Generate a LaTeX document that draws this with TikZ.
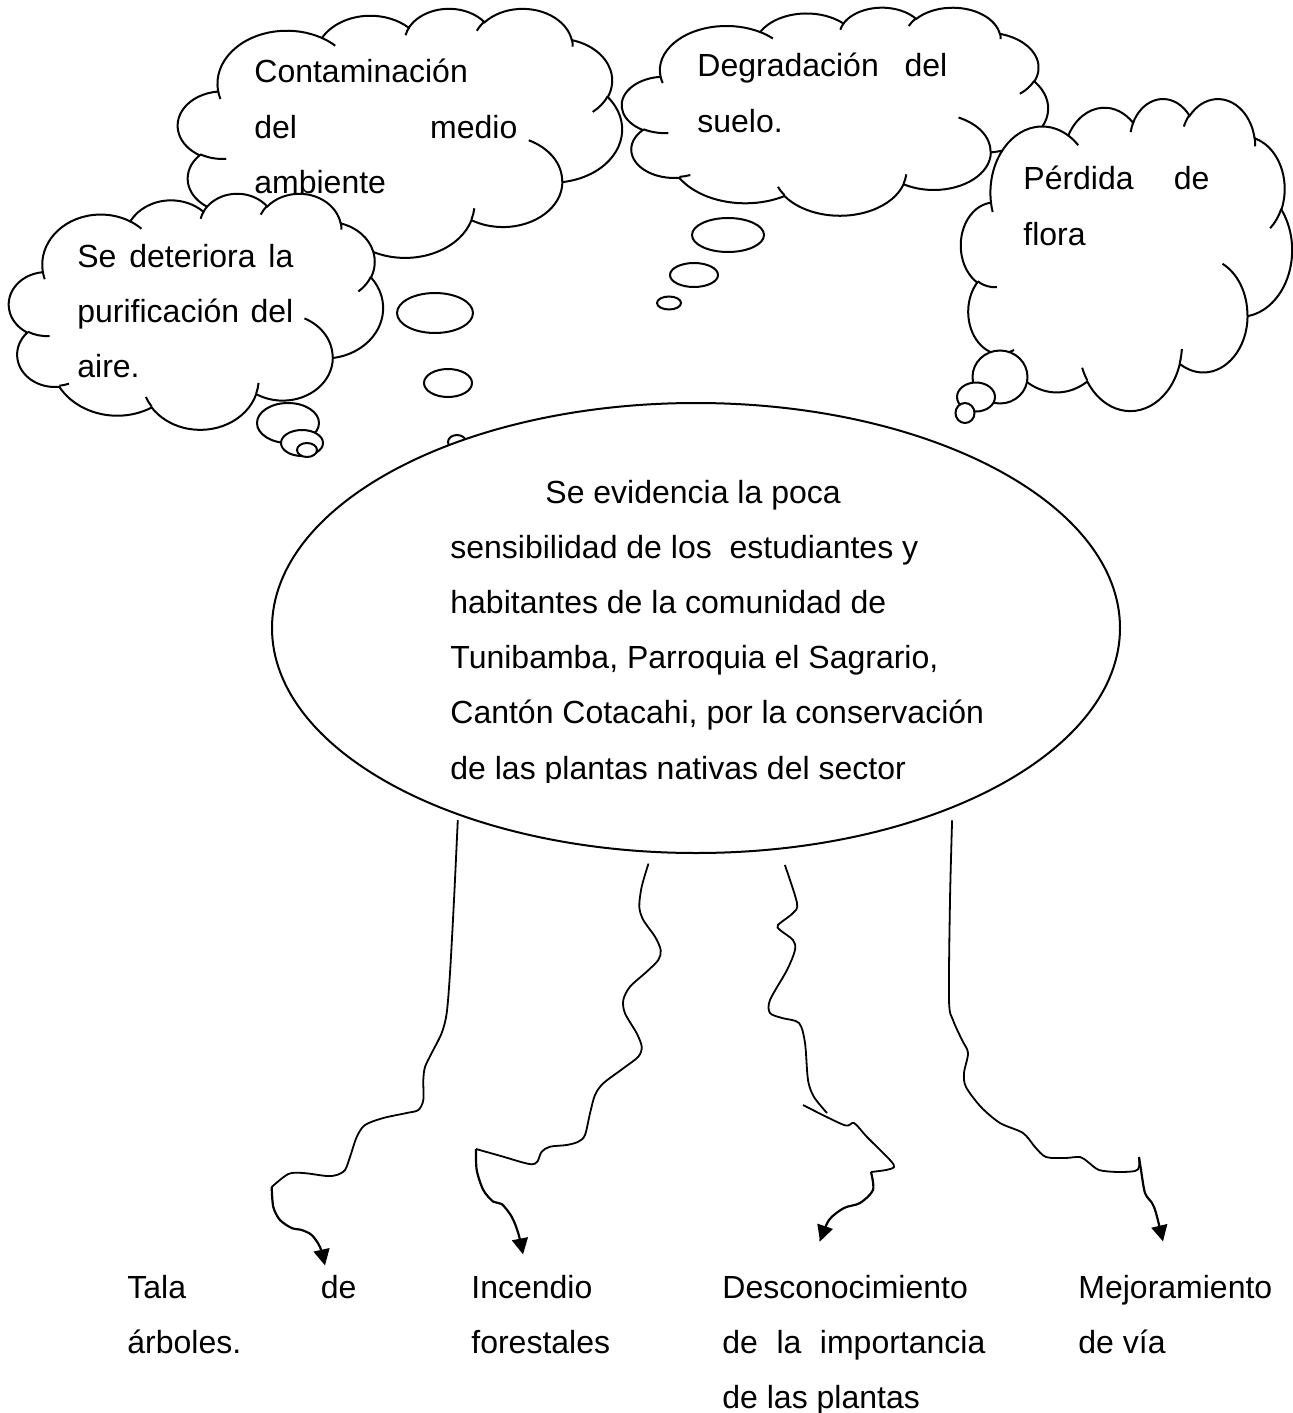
\documentclass[tikz,border=0pt]{standalone}
\usepackage{fontspec}
\setmainfont{Liberation Sans}
\usetikzlibrary{shapes.geometric,arrows.meta}

% arco de nube (radios, angulo inicial, barrido)
\newcommand\arco[4]{arc[x radius=#1, y radius=#2,
  start angle={atan2(#1*sin(#3),#2*cos(#3))},
  delta angle={mod(atan2(#1*sin(#3+#4),#2*cos(#3+#4))-atan2(#1*sin(#3),#2*cos(#3))+720,360)}]}
\newcommand\just[2]{\makebox[#1][s]{\spaceskip=0.2778em plus 1fil\relax #2}}

% nube: x, y, ancho, alto
\newcommand\nube[4]{%
  \pgfmathsetmacro\nubeancho{#3/864}%
  \pgfmathsetmacro\nubealto{#4/864}%
  \begin{scope}[shift={(#1,#2)}, x=\nubeancho pt, y=-\nubealto pt]
    \draw[borde] (39.00,143.70) \arco{67.53}{91.90}{-190.4875}{123.7805}
      \arco{53.33}{72.67}{-144.1024}{89.9452} \arco{43.65}{59.45}{-145.8079}{99.7230}
      \arco{48.57}{65.95}{-130.9861}{117.2417} \arco{53.33}{72.73}{-78.7089}{109.0269}
      \arco{67.75}{92.20}{-46.2673}{130.2690} \arco{57.85}{78.67}{0.6250}{114.0333}
      \arco{67.52}{92.15}{22.4516}{115.1726} \arco{77.20}{105.43}{66.2426}{75.7110}
      \arco{43.60}{59.18}{-274.9421}{146.7356} \arco{43.45}{59.45}{-246.8285}{152.5189}
      -- cycle;
    \foreach \px/\py/\rx/\ry/\a/\b in {46.93/261.77/43.45/59.45/86.742/26.4295,
        69.28/348.99/43.60/59.18/73.6105/11.4475, 164.78/390.90/67.52/92.15/137.6242/14.0811,
        288.27/347.51/67.52/92.15/6.4533/15.9984, 341.29/229.54/57.85/78.67/-70.2924/70.9174,
        417.98/153.54/53.33/72.73/30.3180/27.7515, 383.24/54.26/48.57/65.95/-13.7443/14.8589,
        290.78/39.52/48.57/65.95/-149.1815/18.1954, 221.41/47.20/43.65/59.45/-163.4943/17.6864,
        140.00/51.92/67.53/91.90/-66.7070/12.3194, 41.27/157.89/67.53/91.90/157.6544/11.8582}
      \draw[pliegue] (\px,\py) \arco{\rx}{\ry}{\a}{\b};
  \end{scope}}

\begin{document}
\begin{tikzpicture}[x=0.5pt, y=-0.5pt,
  borde/.style={line width=1pt, fill=white},
  pliegue/.style={line width=1pt},
  globo/.style={line width=1pt, fill=white},
  raiz/.style={line width=0.9pt},
  flecha/.style={line width=1.1pt, -{Triangle[length=8pt,width=8pt]}},
  texto/.style={font=\fontsize{16}{27.6}\selectfont, inner sep=0pt, anchor=base west, align=flush left}]
  \path[use as bounding box, fill=white] (0,0) rectangle (1293,1413);

  % nubes
  \nube{178}{8}{444}{249}
  \nube{622}{7}{426}{208}
  \nube{9}{193}{374}{236}
  \nube{961}{98}{331}{312}

  \foreach \cx/\cy/\rx/\ry in {435/313/38/20, 448/383/24/14, 457/442/9/7,
      728/235/36/17, 694/275/24/12, 669/303/12/6.5,
      288/423/31/20, 302/443/21/13, 307/450/10/7,
      1000/377/27.5/26.5, 976/397/19/14.5, 965/413/9.5/10}
    \draw[globo] (\cx,\cy) ellipse[x radius=\rx, y radius=\ry];

  \node[ellipse, draw, fill=white, line width=1pt, inner sep=0pt, outer sep=0pt,
    minimum width=424pt, minimum height=225pt] (problema) at (696,628) {};

  \node[texto, text width=150pt] (contaminacion) at (254,83)
    {Contaminación\\\just{131.5pt}{del medio}\\ambiente};
  \node[texto, text width=130pt] (deteriora) at (77,267)
    {\just{108pt}{Se deteriora la}\\\just{108pt}{purificación del}\\aire.};
  \node[texto, text width=140pt] (degradacion) at (697,77)
    {\just{125pt}{Degradación del}\\suelo.};
  \node[texto, text width=110pt] (perdida) at (1023,190)
    {\just{93pt}{Pérdida de}\\flora};
  \begin{scope}
    \clip (0,0) rectangle (1293,782);
    \node[texto, text width=300pt] (evidencia) at (450,503)
      {\hspace*{47.5pt}Se evidencia la poca\\sensibilidad de los\ \ estudiantes y\\habitantes de la comunidad de\\Tunibamba, Parroquia el Sagrario,\\Cantón Cotacahi, por la conservación\\de las plantas nativas del sector};
  \end{scope}

  \node[texto, text width=140pt] (tala) at (127,1298) {\just{114.5pt}{Tala de}\\árboles.};
  \node[texto, text width=110pt] (incendio) at (471,1298) {Incendio\\forestales};
  \node[texto, text width=150pt] (desconocimiento) at (722,1298)
    {Desconocimiento\\\just{131.5pt}{de la importancia}\\de las plantas};
  \node[texto, text width=110pt] (mejoramiento) at (1078,1298) {Mejoramiento\\de vía};

  % raices
  \coordinate (codoA) at (271.7,1187);
  \coordinate (codoB) at (476,1149);
  \coordinate (codoC0) at (803,1105);
  \coordinate (codoC1) at (827,1113);
  \coordinate (codoC) at (871,1172);
  \coordinate (codoD) at (1139,1157);

  \draw[raiz] plot[smooth] coordinates {([yshift=-3pt]problema.-142.3) (454,900) (450,973)
    (446.7,1013) (441.7,1033) (431.7,1053) (425,1067) (423.3,1080) (423.3,1100) (418.3,1110)
    (406.7,1113) (383.3,1118) (365,1125) (356.7,1137) (350,1157) (345,1170) (336.7,1175)
    (326.7,1176) (303.3,1173) (288.3,1174) (codoA)};
  \draw[flecha] plot[smooth] coordinates {(codoA) (273.3,1207) (280,1220) (291.7,1228)
    (301.7,1230) (311.7,1235) (320,1247) ([xshift=99pt,yshift=4.5pt]tala.north west)};

  \draw[raiz] plot[smooth] coordinates {([yshift=-6pt]problema.-102.1) (641.7,886.7)
    (639.3,906.7) (643.3,920) (655,936.7) (660.7,950) (658.3,960) (646.7,971.7) (630,986.7)
    (623.3,1000) (625,1013.3) (636.7,1033.3) (641.7,1046.7) (638.3,1056.7) (623.3,1068.3)
    (603.3,1083.3) (595,1095) (590,1113.3) (585,1135) (578.3,1141.7) (566.7,1145) (550,1146.7)
    (541.7,1151.7) (537.3,1161.7) (531.7,1164.3) (520,1161.7) (503.3,1156.7) (codoB)};
  \draw[flecha] plot[smooth] coordinates {(codoB) (476.7,1170) (483.3,1190) (493.3,1201.7)
    (501.7,1204) (511.7,1216.7) (518.3,1233.3) ([xshift=26pt,yshift=10pt]incendio.north west)};

  \draw[raiz] plot[smooth] coordinates {([yshift=-8.5pt]problema.-68.2) (797,903) (793,913)
    (778,925) (780,930) (793,940) (795,950) (787,970) (770,1000) (770,1013) (782,1018)
    (799,1023) (805,1043) (808,1080) (814,1097) (codoC1)};
  \draw[raiz] plot[smooth] coordinates {(codoC0) (844,1125) (854,1123) (867,1137) (890,1160)
    (894,1167) (886,1170) (codoC)};
  \draw[flecha] plot[smooth] coordinates {(codoC) (873,1190) (860,1203) (844,1208) (829,1220)
    ([xshift=49pt,yshift=16.5pt]desconocimiento.north west)};

  \draw[raiz] plot[smooth] coordinates {([yshift=-6.5pt]problema.-35.2) (950,900) (949,1000)
    (953,1020) (962,1040) (968,1053) (964,1073) (966,1087) (981,1107) (1000,1123) (1023,1133)
    (1035,1147) (1046,1157) (1065,1158) (1080,1157) (1088,1162) (1099,1170) (1118,1172)
    (1135,1171) (1139,1167) (codoD)};
  \draw[flecha] plot[smooth] coordinates {(codoD) (1141,1170) (1145,1193) (1152,1203)
    (1156,1213) ([xshift=42.5pt,yshift=16.5pt]mejoramiento.north west)};
\end{tikzpicture}
\end{document}
